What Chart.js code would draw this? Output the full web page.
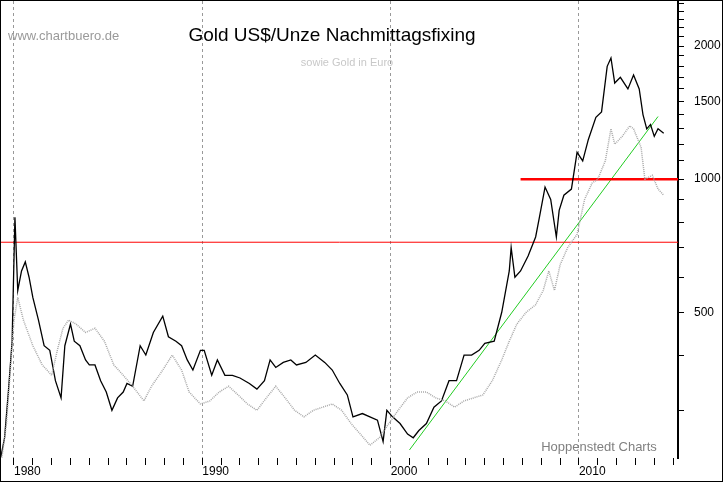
<!DOCTYPE html>
<html>
<head>
<meta charset="utf-8">
<script src="https://cdn.jsdelivr.net/npm/chart.js@4/dist/chart.umd.min.js"></script>
<style>
  body { margin: 0; background: #fff; }
  #wrap { width: 723px; height: 482px; position: relative; box-sizing: border-box; border: 1px solid #000; }
</style>
</head>
<body>
<div id="wrap"><canvas id="c" width="721" height="480"></canvas></div>
<script>
// Gold in US$ per ounce (afternoon fixing)
const usdYears = [1979.3,1979.5,1979.7,1979.9,1980.05,1980.2,1980.4,1980.6,1980.8,1981.0,1981.3,1981.6,1981.9,1982.2,1982.5,1982.7,1983.0,1983.2,1983.5,1983.8,1984.0,1984.3,1984.6,1984.9,1985.2,1985.5,1985.8,1986.0,1986.3,1986.7,1987.0,1987.4,1987.9,1988.2,1988.6,1988.9,1989.2,1989.5,1989.9,1990.1,1990.5,1990.8,1991.2,1991.6,1992.0,1992.5,1992.9,1993.3,1993.6,1993.9,1994.3,1994.7,1995.0,1995.5,1996.0,1996.5,1996.9,1997.3,1997.7,1998.0,1998.5,1998.9,1999.3,1999.6,1999.8,2000.1,2000.5,2000.9,2001.2,2001.5,2001.9,2002.3,2002.7,2003.1,2003.5,2003.9,2004.3,2004.7,2005.0,2005.5,2005.9,2006.3,2006.4,2006.6,2006.9,2007.3,2007.7,2007.9,2008.2,2008.5,2008.8,2008.95,2009.2,2009.6,2009.9,2010.2,2010.5,2010.9,2011.2,2011.5,2011.7,2011.9,2012.2,2012.6,2012.9,2013.2,2013.4,2013.6,2013.8,2014.0,2014.2,2014.5];
const usdPrice = [235,260,330,430,820,560,620,650,600,540,480,420,410,350,320,420,470,430,420,390,380,380,350,330,300,320,330,345,340,420,400,450,490,440,430,420,390,370,410,410,360,390,360,360,355,345,335,350,390,375,385,390,380,385,400,385,370,345,325,290,295,290,285,255,300,290,280,265,260,270,280,305,315,350,350,400,400,410,425,430,500,620,700,600,620,670,740,820,960,900,740,850,920,950,1150,1100,1230,1380,1420,1800,1880,1650,1700,1600,1720,1600,1400,1300,1330,1250,1300,1270];

// Gold in Euro
const eurYears = [1979.3,1979.6,1980.0,1980.2,1980.5,1981.0,1981.5,1982.0,1982.3,1982.6,1982.9,1983.3,1983.8,1984.3,1984.8,1985.3,1985.8,1986.3,1986.9,1987.3,1987.9,1988.4,1988.9,1989.3,1989.9,1990.4,1990.9,1991.4,1991.9,1992.4,1992.9,1993.4,1993.9,1994.4,1994.9,1995.4,1995.9,1996.4,1996.9,1997.4,1997.9,1998.4,1998.9,1999.4,1999.9,2000.4,2000.9,2001.4,2001.9,2002.4,2002.9,2003.4,2003.9,2004.4,2004.9,2005.4,2005.9,2006.3,2006.7,2007.2,2007.7,2008.1,2008.4,2008.7,2009.0,2009.4,2009.9,2010.3,2010.7,2011.0,2011.4,2011.7,2011.9,2012.3,2012.7,2012.9,2013.3,2013.5,2013.9,2014.2,2014.5];
const eurPrice = [225,280,480,540,480,420,380,360,410,460,480,470,450,460,430,380,360,340,315,340,370,400,370,330,310,315,330,340,325,310,300,320,340,320,300,290,300,305,310,300,280,265,250,260,280,300,320,330,330,320,315,305,315,320,325,350,390,430,470,500,520,560,620,560,640,700,750,900,980,1000,1100,1300,1200,1250,1320,1300,1180,1000,1020,950,920];

const yLabels = [500, 1000, 1500, 2000];
const yMinor = [300, 400, 600, 700, 800, 900, 1100, 1200, 1300, 1400, 1600, 1700, 1800, 1900, 2100, 2200, 2300, 2400, 2500];
const xLabels = [1980, 1990, 2000, 2010];
const resistanceLow = 720;
const resistanceHigh = 1000;
const resistanceHighStart = 2006.9;
const trendYears = [2001.0, 2014.2];
const trendValues = [244, 1386];

const pts = (xs, ys) => xs.map((x, i) => ({ x: x, y: ys[i] }));

const textPlugin = {
  id: 'texts',
  afterDraw(chart) {
    const ctx = chart.ctx;
    ctx.save();
    ctx.textBaseline = 'middle';
    ctx.fillStyle = '#9a9a9a';
    ctx.font = '13px "Liberation Sans", Arial';
    ctx.textAlign = 'left';
    ctx.fillText('www.chartbuero.de', 7, 35);
    ctx.fillStyle = '#000';
    ctx.font = '19px "Liberation Sans", Arial';
    ctx.textAlign = 'center';
    ctx.fillText('Gold US$/Unze Nachmittagsfixing', 331, 35);
    ctx.fillStyle = '#c8c8c8';
    ctx.font = '11px "Liberation Sans", Arial';
    ctx.fillText('sowie Gold in Euro', 346, 62);
    ctx.fillStyle = '#808080';
    ctx.font = '13px "Liberation Sans", Arial';
    ctx.fillText('Hoppenstedt Charts', 598, 446);
    ctx.restore();
  }
};

new Chart(document.getElementById('c'), {
  type: 'line',
  data: {
    datasets: [
      { data: pts(eurYears, eurPrice), borderColor: '#a8a8a8', borderWidth: 1.5, borderDash: [1, 1], pointRadius: 0, tension: 0 },
      { data: pts(usdYears, usdPrice), borderColor: '#000', borderWidth: 1.3, pointRadius: 0, tension: 0 },
      { data: [{ x: 1979.31, y: resistanceLow }, { x: 2015.26, y: resistanceLow }], borderColor: '#ff0000', borderWidth: 1, pointRadius: 0 },
      { data: [{ x: resistanceHighStart, y: resistanceHigh }, { x: 2015.26, y: resistanceHigh }], borderColor: '#ff0000', borderWidth: 2.5, pointRadius: 0 },
      { data: pts(trendYears, trendValues), borderColor: '#22cc22', borderWidth: 1, pointRadius: 0 }
    ]
  },
  options: {
    responsive: false,
    animation: false,
    layout: { padding: 0 },
    plugins: { legend: { display: false }, tooltip: { enabled: false } },
    scales: {
      x: {
        type: 'linear',
        min: 1979.31,
        max: 2015.26,
        afterBuildTicks: (s) => {
          const t = [];
          for (let y = 1980; y <= 2015; y++) t.push({ value: y });
          s.ticks = t;
        },
        afterFit: (s) => { s.height = 23; s.paddingLeft = 0; s.paddingRight = 0; },
        grid: {
          color: (c) => (xLabels.includes(c.tick && c.tick.value) ? '#999' : 'rgba(0,0,0,0)'),
          tickColor: '#000',
          tickLength: 7
        },
        border: { display: false, dash: [3, 3] },
        ticks: {
          autoSkip: false, maxRotation: 0, align: 'start', color: '#000', padding: -1,
          font: { family: '"Liberation Sans", Arial', size: 12 },
          callback: (v) => (xLabels.includes(v) ? String(v) : '')
        }
      },
      y: {
        type: 'logarithmic',
        position: 'right',
        min: 234,
        max: 2530,
        afterBuildTicks: (s) => { s.ticks = yLabels.concat(yMinor).map(v => ({ value: v })); },
        afterFit: (s) => { s.width = 44; s.paddingTop = 0; s.paddingBottom = 0; },
        grid: { drawOnChartArea: false, tickLength: 6, tickColor: '#000' },
        border: { color: '#000', width: 2 },
        ticks: {
          autoSkip: false, color: '#000', padding: 10,
          font: { family: '"Liberation Sans", Arial', size: 12 },
          callback: (v) => (yLabels.includes(v) ? String(v) : '')
        }
      }
    }
  },
  plugins: [textPlugin]
});
</script>
</body>
</html>
